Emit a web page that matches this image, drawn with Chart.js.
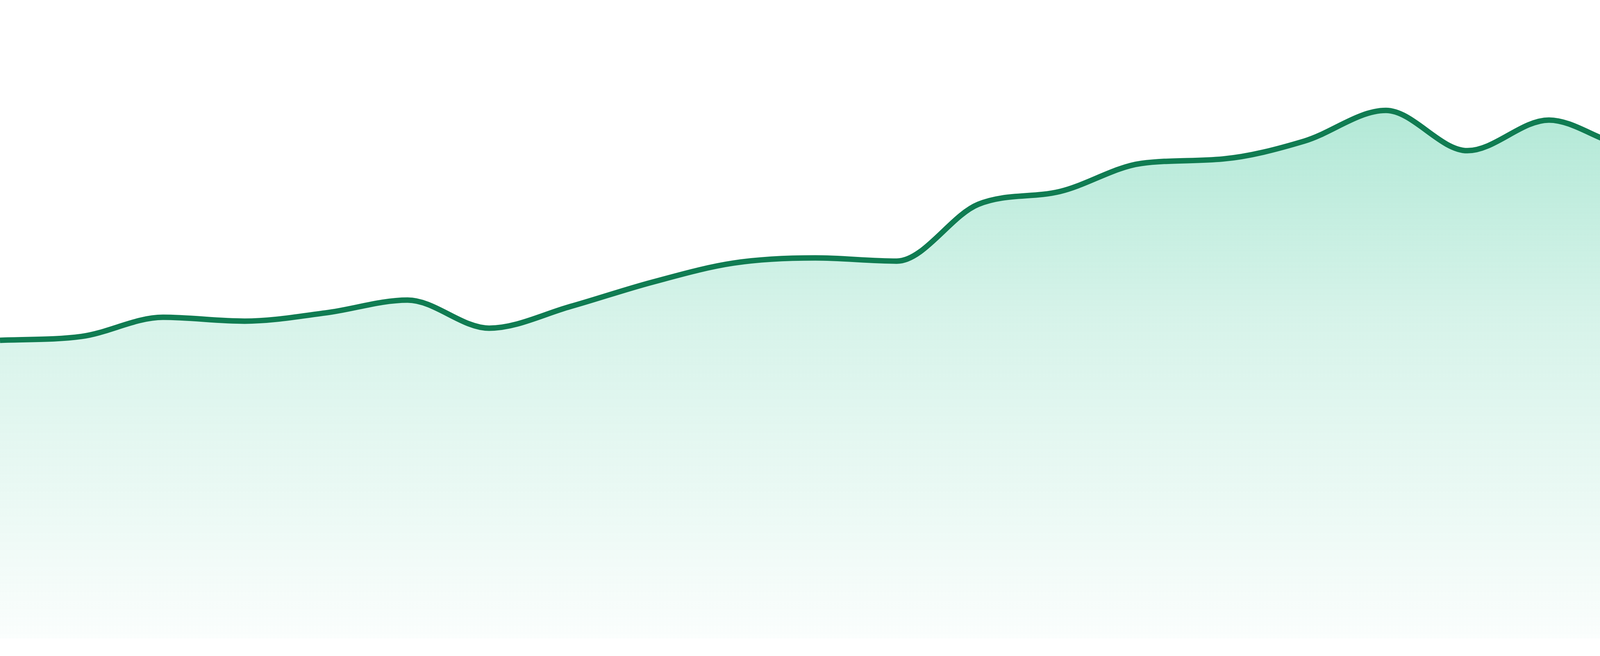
<!DOCTYPE html>
<html lang="en">
<head>
    <meta charset="UTF-8">
    <title>Area trend</title>
    <script src="https://cdn.jsdelivr.net/npm/chart.js"></script>
    <style>
        html, body { margin: 0; padding: 0; background: #ffffff; }
        .chart-wrap { width: 4800px; height: 1680px; position: relative; }
    </style>
</head>
<body>
    <div class="chart-wrap">
        <canvas id="trendChart"></canvas>
    </div>

    <script>
        // Data
        const weeks = ['W1', 'W2', 'W3', 'W4', 'W5', 'W6', 'W7', 'W8', 'W9', 'W10', 'W11', 'W12',
                       'W13', 'W14', 'W15', 'W16', 'W17', 'W18', 'W19', 'W20', 'W21', 'W22', 'W23', 'W24'];
        const values = [46.7, 47.3, 50.3, 49.7, 51.0, 53.0, 48.6, 52.0, 55.8, 58.8, 59.6, 59.1,
                        68.0, 70.0, 74.4, 75.1, 77.9, 82.7, 76.4, 81.2, 77.2, 82.1, 87.5, 83.1];
        const yRange = [0, 100];

        function areaFill(context) {
            const chart = context.chart;
            const area = chart.chartArea;
            if (!area) return 'rgba(16, 185, 129, 0.2)';
            const g = chart.ctx.createLinearGradient(0, area.top, 0, area.bottom);
            g.addColorStop(0, 'rgba(16, 185, 129, 0.40)');
            g.addColorStop(0.5, 'rgba(16, 185, 129, 0.17)');
            g.addColorStop(1, 'rgba(16, 185, 129, 0.02)');
            return g;
        }

        new Chart(document.getElementById('trendChart'), {
            type: 'line',
            data: {
                labels: weeks,
                datasets: [{
                    data: values,
                    borderColor: '#107c52',
                    borderWidth: 14,
                    backgroundColor: areaFill,
                    fill: 'start',
                    pointRadius: 0,
                    pointHoverRadius: 0,
                    cubicInterpolationMode: 'monotone'
                }]
            },
            options: {
                responsive: true,
                maintainAspectRatio: false,
                animation: false,
                layout: { padding: { top: 0, right: 0, bottom: 45, left: 0 } },
                plugins: {
                    legend: { display: false },
                    tooltip: { enabled: false }
                },
                scales: {
                    x: { display: false, offset: false },
                    y: { display: false, min: yRange[0], max: yRange[1] }
                }
            }
        });
    </script>
</body>
</html>
